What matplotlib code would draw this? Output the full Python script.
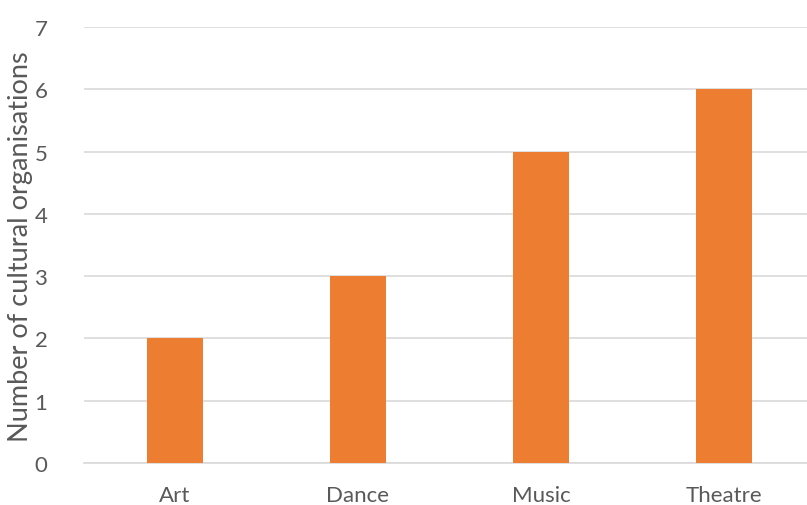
import matplotlib
matplotlib.use("Agg")
import matplotlib.pyplot as plt

categories = ["Art", "Dance", "Music", "Theatre"]
values = [2, 3, 5, 6]
yticks = [0, 1, 2, 3, 4, 5, 6, 7]

plt.rcParams['font.family'] = ['Lato', 'DejaVu Sans']
fig = plt.figure(figsize=(8.07, 5.06), dpi=100)
ax = fig.add_axes([83.5/807, 42/506, 732/807, 436/506])
x = range(len(categories))
ax.bar(x, values, width=0.31, color="#ED7D31", zorder=3)
ax.set_xlim(-0.5, 3.5)
ax.set_ylim(0, 7)
ax.set_yticks(yticks)
ax.set_xticks(list(x))
ax.set_xticklabels(categories)
ax.grid(axis='y', color="#D9D9D9", linewidth=1.2, zorder=0)
for s in ["top", "right", "left"]:
    ax.spines[s].set_visible(False)
ax.spines["bottom"].set_color("#D9D9D9")
ax.spines["bottom"].set_linewidth(1.2)
ax.tick_params(axis='both', length=0, colors="#595959", labelsize=16)
ax.tick_params(axis='y', pad=26)
ax.tick_params(axis='x', pad=16)
fig.text(21/807, 1 - 247/506, "Number of cultural organisations", color="#595959",
         fontsize=19.5, rotation=90, ha='center', va='center')
fig.savefig("out.png", dpi=100)
